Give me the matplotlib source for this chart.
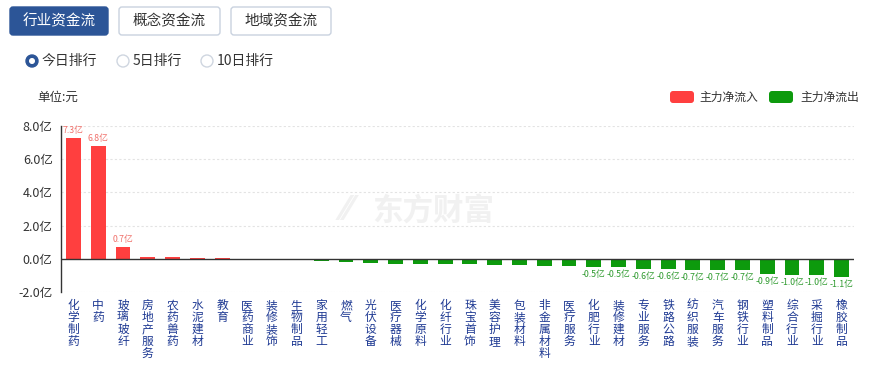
import matplotlib
matplotlib.use("Agg")
import matplotlib.pyplot as plt
from matplotlib.patches import FancyBboxPatch, Circle

plt.rcParams['font.family'] = ['Noto Sans CJK SC', 'DejaVu Sans']

categories = ["化学制药", "中药", "玻璃玻纤", "房地产服务", "农药兽药", "水泥建材", "教育", "医药商业",
              "装修装饰", "生物制品", "家用轻工", "燃气", "光伏设备", "医疗器械", "化学原料", "化纤行业",
              "珠宝首饰", "美容护理", "包装材料", "非金属材料", "医疗服务", "化肥行业", "装修建材", "专业服务",
              "铁路公路", "纺织服装", "汽车服务", "钢铁行业", "塑料制品", "综合行业", "采掘行业", "橡胶制品"]
values = [7.3, 6.8, 0.7, 0.12, 0.08, 0.07, 0.02, 0.005,
          -0.01, -0.08, -0.15, -0.2, -0.27, -0.3, -0.3, -0.3,
          -0.32, -0.37, -0.37, -0.45, -0.45, -0.5, -0.5, -0.6,
          -0.6, -0.7, -0.7, -0.7, -0.9, -1.0, -1.0, -1.1]
labeled = [0, 1, 2] + list(range(21, 32))
yticks = [-2.0, 0.0, 2.0, 4.0, 6.0, 8.0]

RED = '#ff3f3f'
GREEN = '#0d9a0d'
W, H = 870, 369
fig = plt.figure(figsize=(W / 100, H / 100), dpi=100)

# overlay in pixel coords
ov = fig.add_axes([0, 0, 1, 1])
ov.set_xlim(0, W)
ov.set_ylim(H, 0)
ov.axis('off')

# buttons
ov.add_patch(FancyBboxPatch((10, 7), 98, 28, boxstyle="round,pad=0,rounding_size=3",
                            fc='#2c5597', ec='#2c5597', lw=1))
ov.text(59, 21.5, "行业资金流", color='white', fontsize=10.5, ha='center', va='center')
for x0, x1, t in [(119, 220, "概念资金流"), (231, 331, "地域资金流")]:
    ov.add_patch(FancyBboxPatch((x0, 7), x1 - x0, 28, boxstyle="round,pad=0,rounding_size=3",
                                fc='white', ec='#c9d2df', lw=1))
    ov.text((x0 + x1) / 2, 21.5, t, color='#333333', fontsize=10.5, ha='center', va='center')

# radio buttons
ov.add_patch(Circle((32, 61), 6, fc='#2c5597', ec='#2c5597'))
ov.add_patch(Circle((32, 61), 2.3, fc='white', ec='white'))
ov.text(42, 61, "今日排行", fontsize=10, color='#333333', va='center')
for cx, t in [(123, "5日排行"), (207, "10日排行")]:
    ov.add_patch(Circle((cx, 61), 6, fc='white', ec='#cfd6e0', lw=1))
    ov.text(cx + 10, 61, t, fontsize=10, color='#333333', va='center')

ov.text(37, 97, "单位:元", fontsize=9, color='#333333', va='center')

# legend
ov.add_patch(FancyBboxPatch((670, 91), 24, 12, boxstyle="round,pad=0,rounding_size=3", fc=RED, ec='none'))
ov.text(699, 97, "主力净流入", fontsize=8.5, color='#333333', va='center')
ov.add_patch(FancyBboxPatch((769, 91), 24, 12, boxstyle="round,pad=0,rounding_size=3", fc=GREEN, ec='none'))
ov.text(800, 97, "主力净流出", fontsize=8.5, color='#333333', va='center')

# watermark
ov.text(372, 211, "东方财富", fontsize=22, fontweight='bold', color='#f1f1f1', va='center', ha='left')
ov.text(342, 211, "⁄⁄", fontsize=24, fontweight='bold', color='#f1f1f1', va='center', ha='left',
        family=['DejaVu Sans'])

# main chart
left, right = 61 / W, 854 / W
bottom, top = 1 - 292 / H, 1 - 126 / H
ax = fig.add_axes([left, bottom, right - left, top - bottom])
ax.patch.set_alpha(0)
x = list(range(len(categories)))
colors = [RED if v >= 0 else GREEN for v in values]
ax.bar(x, values, width=0.6, color=colors, zorder=3)
ax.set_xlim(-0.5, len(categories) - 0.5)
ax.set_ylim(-2, 8)
for yv in [2, 4, 6, 8]:
    ax.axhline(yv, color='#e3e3e3', lw=0.8, ls=(0, (2, 2)), zorder=1)
ax.axhline(-2, color='#e3e3e3', lw=0.8, ls=(0, (1, 1.5)), zorder=1)
ax.axhline(0, color='#333333', lw=1.0, zorder=4)
for s in ['top', 'right', 'bottom']:
    ax.spines[s].set_visible(False)
ax.spines['left'].set_color('#333333')
ax.spines['left'].set_linewidth(1.0)
ax.set_yticks(yticks)
ax.set_yticklabels([f"{v:.1f}亿" for v in yticks], fontsize=9, color='#333333')
ax.tick_params(axis='y', length=0, pad=6)
ax.set_xticks([])

for i in labeled:
    v = values[i]
    if v >= 0:
        ax.annotate(f"{v:.1f}亿", xy=(i, v), xytext=(0, 2), textcoords='offset points',
                    ha='center', va='bottom', fontsize=6.3, color='#f0706a')
    else:
        ax.annotate(f"{v:.1f}亿", xy=(i, v), xytext=(0, -2), textcoords='offset points',
                    ha='center', va='top', fontsize=6.3, color='#2e9a2e')

# vertical category labels
for i, c in enumerate(categories):
    for k, ch in enumerate(c):
        ax.annotate(ch, xy=(i, 0), xycoords=('data', 'axes fraction'),
                    xytext=(0, -(13.5 + 12 * k) * 0.72), textcoords='offset points',
                    ha='center', va='center', fontsize=8.5, color='#1f3a93')

fig.savefig("out.png", dpi=100)
